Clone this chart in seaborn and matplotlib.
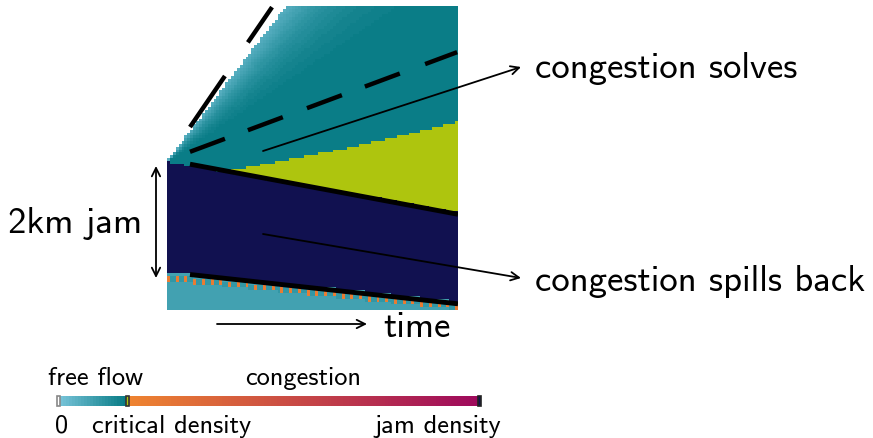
import numpy as np
import matplotlib
matplotlib.use("Agg")
import matplotlib.pyplot as plt
from matplotlib.colors import ListedColormap, LinearSegmentedColormap
from matplotlib.patches import Rectangle
import seaborn as sns

# -------------------------------
# 1. DATA
# -------------------------------
n_steps = 100        # time steps
n_cells = 108        # road cells
cell_km = 0.05
road_km = n_cells * cell_km

# normalised densities
rho_crit = 1 / 6
rho_jam = 1.0
rho_upstream = 0.085

# wave boundaries as (time step, km)
fan_edge_t = [0, 41]
fan_edge_km = [2.65, 5.40]
jam_head_t = [0, 100]
jam_head_km = [2.63, 1.74]
jam_tail_t = [0, 100]
jam_tail_km = [0.67, 0.16]
crit_top_t = [20, 66, 100]
crit_top_km = [2.45, 2.92, 3.34]

# density inside the rarefaction fan vs wave speed (km / step)
fan_speed = [0.033, 0.043, 0.053, 0.068]
fan_rho = [0.16, 0.14, 0.11, 0.05]
tail_specks = [0.22, 0.10, 0.10]

# vehicle trajectories (time step, km)
traj_fast_t = [7.9, 36.1]
traj_fast_km = [3.25, 5.38]
traj_mid_t = [7.9, 99.7]
traj_mid_km = [2.81, 4.58]
traj_head_t = [7.9, 100]
traj_head_km = [2.59, 1.70]
traj_tail_t = [7.9, 100]
traj_tail_km = [0.63, 0.11]
dash_start = [7.9, 27.8, 48.1, 68.0, 88.7]
dash_len = 12.0

# -------------------------------
# 2. BUILD DENSITY GRID
# -------------------------------
t_mid = np.arange(n_steps) + 0.5
s_mid = road_km - (np.arange(n_cells) + 0.5) * cell_km
T, S = np.meshgrid(t_mid, s_mid)

head = np.interp(T, jam_head_t, jam_head_km)
tail = np.interp(T, jam_tail_t, jam_tail_km)
crit = np.interp(T, crit_top_t, crit_top_km)
edge = np.interp(T, fan_edge_t, fan_edge_km)

speed = (S - jam_head_km[0]) / T
density = np.interp(speed, fan_speed, fan_rho)
density = np.where(S > edge, np.nan, density)
density = np.where((S > head) & (S <= crit), rho_crit, density)
density = np.where((S <= head) & (S > tail), rho_jam, density)
density = np.where(S <= tail, rho_upstream, density)

# orange specks right behind the jam tail
first_up = np.argmax(S <= tail, axis=0)
cols = np.arange(n_steps)
specks = np.resize(tail_specks, n_steps)
for k in (1, 2):
    density[np.minimum(first_up + k, n_cells - 1), cols] = specks

# -------------------------------
# 3. COLORMAP
# -------------------------------
n_colors = 141
crit_idx = int(rho_crit * n_colors)
free = LinearSegmentedColormap.from_list("free", ["#74c1d6", "#0a7d87"])
cong = LinearSegmentedColormap.from_list("cong", ["#ee8330", "#9e0a5c"])
colors = (["#ffffff"]
          + [free(x) for x in np.linspace(0, 1, crit_idx - 1)]
          + ["#aec50e"]
          + [cong(x) for x in np.linspace(0, 1, n_colors - crit_idx - 2)]
          + ["#111150"])
cmap = ListedColormap(colors)

# -------------------------------
# 4. PLOT
# -------------------------------
fig = plt.figure(figsize=(8.73, 4.39), dpi=100)
ax = fig.add_axes([167 / 873, 1 - 311 / 439, 291 / 873, 304 / 439])
sns.heatmap(density, cmap=cmap, vmin=0, vmax=1, cbar=False,
            xticklabels=False, yticklabels=False, ax=ax)


def to_row(km):
    return (road_km - np.asarray(km)) / cell_km


for tt, kk in [(traj_fast_t, traj_fast_km), (traj_mid_t, traj_mid_km)]:
    for t0 in dash_start:
        if t0 >= tt[-1]:
            continue
        seg = np.array([t0, min(t0 + dash_len, tt[-1])])
        ax.plot(seg, to_row(np.interp(seg, tt, kk)), color="black", lw=3.2,
                solid_capstyle="butt")
for tt, kk in [(traj_head_t, traj_head_km), (traj_tail_t, traj_tail_km)]:
    ax.plot(tt, to_row(kk), color="black", lw=3.5, solid_capstyle="butt")
ax.set_xlim(0, n_steps)
ax.set_ylim(n_cells, 0)

# colorbar
cax = fig.add_axes([57 / 873, 1 - 407 / 439, 424 / 873, 10 / 439])
sns.heatmap([(np.arange(n_colors) + 0.5) / n_colors], cmap=cmap, vmin=0, vmax=1,
            cbar=False, xticklabels=False, yticklabels=False, ax=cax)
for idx, ec in [(0, "#888888"), (crit_idx, "#333333"), (n_colors - 1, "#222222")]:
    cax.add_patch(Rectangle((idx, 0), 1, 1, fill=False, ec=ec, lw=1.2, clip_on=False))

# annotations in pixel space
ov = fig.add_axes([0, 0, 1, 1])
ov.set_xlim(0, 873)
ov.set_ylim(439, 0)
ov.axis("off")

big = dict(fontfamily="cmss10", fontsize=26.5, va="baseline", ha="left")
small = dict(fontfamily="cmss10", fontsize=19, va="baseline", ha="left")
arrow = dict(arrowstyle="->", lw=1.3, color="black", shrinkA=0, shrinkB=0,
             mutation_scale=15)

ov.text(535, 78, "congestion solves", **big)
ov.text(535, 291, "congestion spills back", **big)
ov.text(8, 233, "2km jam", **big)
ov.text(383, 337, "time", **big)
ov.annotate("", xy=(521, 68), xytext=(263, 152), arrowprops=arrow)
ov.annotate("", xy=(521, 279), xytext=(263, 235), arrowprops=arrow)
ov.annotate("", xy=(367, 325), xytext=(217, 325), arrowprops=arrow)
ov.annotate("", xy=(156, 279), xytext=(156, 167),
            arrowprops=dict(arrow, arrowstyle="<->"))

ov.text(48, 385, "free flow", **small)
ov.text(245, 385, "congestion", **small)
ov.text(55, 433, "0", **small)
ov.text(92, 433, "critical density", **small)
ov.text(375, 433, "jam density", **small)

fig.savefig("out.png", dpi=100)
